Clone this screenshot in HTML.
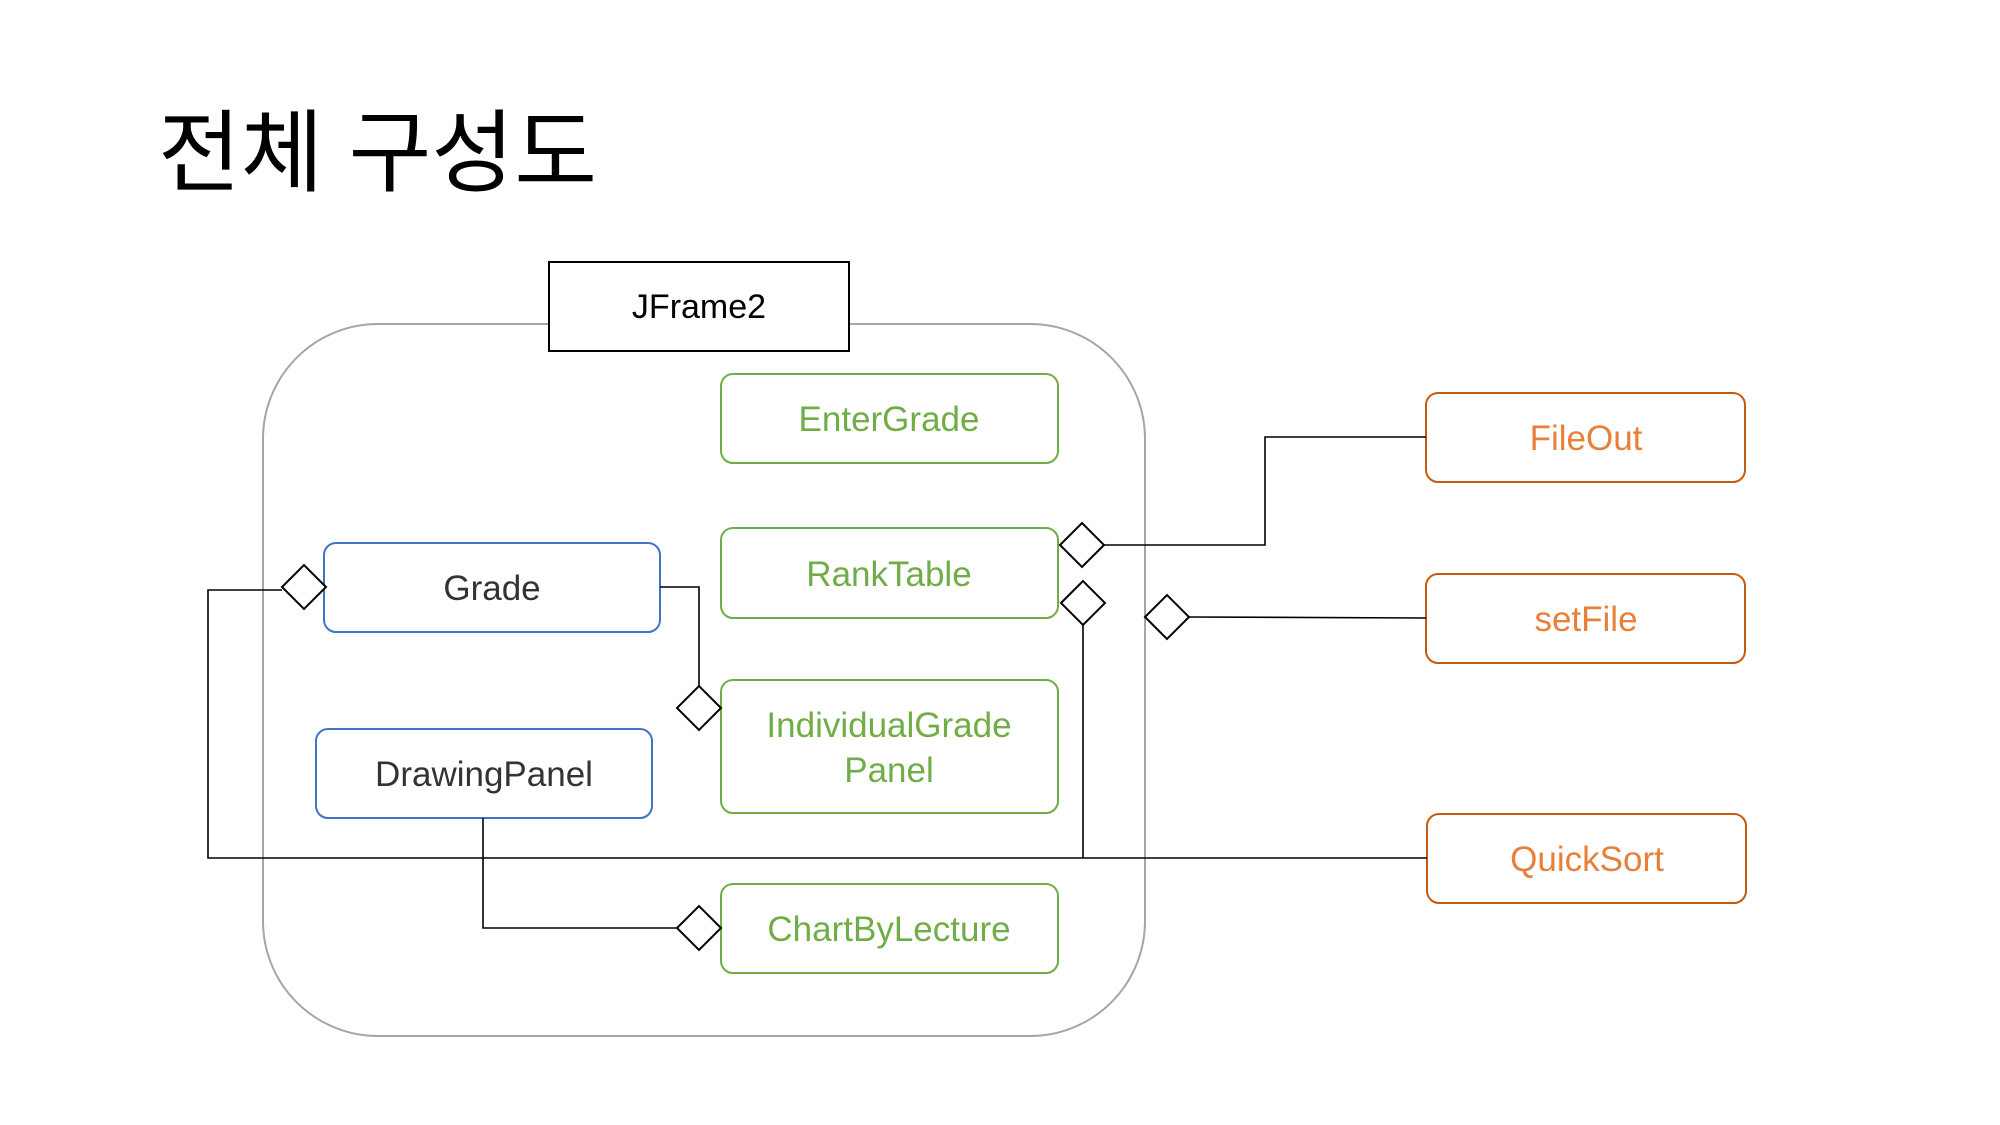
<!DOCTYPE html>
<html><head><meta charset="utf-8"><style>
html,body{margin:0;padding:0;background:#fff;}
body{width:2000px;height:1125px;overflow:hidden;position:relative;}
svg{position:absolute;left:0;top:0;}
text{font-family:"Liberation Sans","Noto Sans CJK KR",sans-serif;}
</style></head><body>
<svg width="2000" height="1125" viewBox="0 0 2000 1125">
<text x="158" y="184" font-size="90" fill="#000" font-family="'Noto Sans CJK KR','NanumGothic',sans-serif">전체 구성도</text>
<rect x="263" y="324" width="882" height="712" rx="115" fill="none" stroke="#a6a6a6" stroke-width="2"/>
<rect x="549" y="262" width="300" height="89" fill="#fff" stroke="#000" stroke-width="2"/>
<text x="699" y="318" font-size="34" text-anchor="middle" fill="#000">JFrame2</text>
<g fill="#fff" stroke="#70AD47" stroke-width="2">
<rect x="721" y="374" width="337" height="89" rx="12"/>
<rect x="721" y="528" width="337" height="90" rx="12"/>
<rect x="721" y="680" width="337" height="133" rx="12"/>
<rect x="721" y="884" width="337" height="89" rx="12"/>
</g>
<g fill="#70AD47" font-size="35" text-anchor="middle">
<text x="889" y="431">EnterGrade</text>
<text x="889" y="586">RankTable</text>
<text x="889" y="737">IndividualGrade</text>
<text x="889" y="782">Panel</text>
<text x="889" y="941">ChartByLecture</text>
</g>
<g fill="#fff" stroke="#4472C4" stroke-width="2">
<rect x="324" y="543" width="336" height="89" rx="12"/>
<rect x="316" y="729" width="336" height="89" rx="12"/>
</g>
<g fill="#333" font-size="35" text-anchor="middle">
<text x="492" y="600">Grade</text>
<text x="484" y="786">DrawingPanel</text>
</g>
<g fill="#fff" stroke="#C55A11" stroke-width="2">
<rect x="1426" y="393" width="319" height="89" rx="12"/>
<rect x="1426" y="574" width="319" height="89" rx="12"/>
<rect x="1427" y="814" width="319" height="89" rx="12"/>
</g>
<g fill="#E8803A" font-size="35" text-anchor="middle">
<text x="1586" y="450">FileOut</text>
<text x="1586" y="631">setFile</text>
<text x="1587" y="871">QuickSort</text>
</g>
<g fill="none" stroke="#000" stroke-width="1.6">
<polyline points="1104,545 1265,545 1265,437 1426,437"/>
<polyline points="1189,617 1426,618"/>
<polyline points="660,587 699,587 699,686"/>
<polyline points="282,590 208,590 208,858 1427,858"/>
<polyline points="1083,625 1083,858"/>
<polyline points="483,818 483,928 677,928"/>
</g>
<g fill="#fff" stroke="#000" stroke-width="2">
<polygon points="282,587 304,565 326,587 304,609"/>
<polygon points="677,708 699,686 721,708 699,730"/>
<polygon points="677,928 699,906 721,928 699,950"/>
<polygon points="1060,545 1082,523 1104,545 1082,567"/>
<polygon points="1061,603 1083,581 1105,603 1083,625"/>
<polygon points="1145,617 1167,595 1189,617 1167,639"/>
</g>
</svg>
</body></html>
